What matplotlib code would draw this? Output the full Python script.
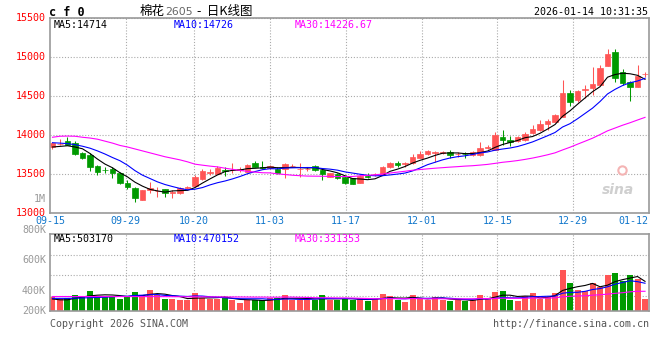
"""
CF0 (cotton 2605) daily K-line chart, sina finance style.
Redrawn with matplotlib: price panel with MA5/10/30, volume panel below.
"""

import matplotlib
matplotlib.use('Agg')
import matplotlib.pyplot as plt
import matplotlib.transforms as mtransforms
import numpy as np

# ============================================================
#  DATA
# ============================================================
OPENS = [13855, 13885, 13927, 13897, 13777, 13748, 13606, 13560, 13564, 13521,
         13393, 13320, 13171, 13299, 13282, 13307, 13260, 13256, 13330, 13350,
         13436, 13521, 13504, 13555, 13551, 13560, 13534, 13649, 13598, 13577,
         13564, 13564, 13605, 13564, 13565, 13606, 13555, 13470, 13504, 13470,
         13449, 13393, 13475, 13500, 13491, 13590, 13649, 13630, 13640, 13714,
         13757, 13777, 13778, 13787, 13760, 13760, 13744, 13744, 13838, 13816,
         13972, 13936, 13925, 13940, 14028, 14066, 14148, 14175, 14239, 14547,
         14453, 14585, 14602, 14645, 14893, 15072, 14807, 14688, 14624, 14780]
HIGHS = [13915, 13948, 13983, 13927, 13785, 13769, 13615, 13598, 13598, 13534,
         13427, 13333, 13305, 13406, 13342, 13315, 13299, 13342, 13350, 13491,
         13564, 13568, 13606, 13598, 13641, 13590, 13628, 13671, 13671, 13615,
         13590, 13641, 13628, 13641, 13590, 13619, 13565, 13521, 13513, 13478,
         13457, 13491, 13521, 13521, 13602, 13658, 13666, 13658, 13755, 13800,
         13810, 13800, 13795, 13808, 13787, 13787, 13795, 13915, 13872, 14043,
         14065, 13992, 13985, 14043, 14130, 14190, 14205, 14272, 14709, 14581,
         14581, 14645, 14880, 14901, 15102, 15102, 14846, 14700, 14901, 14816]
LOWS = [13820, 13875, 13870, 13748, 13692, 13547, 13491, 13513, 13448, 13376,
        13312, 13149, 13165, 13265, 13213, 13213, 13192, 13248, 13307, 13342,
        13430, 13491, 13498, 13478, 13521, 13534, 13528, 13594, 13564, 13570,
        13500, 13449, 13590, 13461, 13545, 13545, 13427, 13462, 13436, 13376,
        13370, 13385, 13449, 13478, 13485, 13585, 13600, 13600, 13632, 13708,
        13750, 13658, 13765, 13714, 13722, 13714, 13738, 13738, 13830, 13810,
        13872, 13860, 13910, 13930, 14020, 14055, 14068, 14165, 14230, 14376,
        14431, 14474, 14517, 14640, 14885, 14688, 14645, 14440, 14620, 14743]
CLOSES = [13897, 13893, 13876, 13756, 13713, 13598, 13534, 13554, 13521, 13393,
          13333, 13192, 13299, 13320, 13290, 13256, 13268, 13320, 13337, 13470,
          13547, 13530, 13577, 13547, 13556, 13566, 13619, 13598, 13577, 13606,
          13521, 13628, 13611, 13570, 13572, 13555, 13504, 13513, 13449, 13384,
          13376, 13478, 13470, 13504, 13590, 13649, 13615, 13641, 13725, 13765,
          13795, 13783, 13782, 13744, 13764, 13754, 13787, 13842, 13844, 13999,
          13938, 13917, 13972, 14020, 14075, 14148, 14186, 14260, 14547, 14431,
          14568, 14590, 14658, 14867, 15042, 14739, 14675, 14624, 14765, 14786]

MA5 = [13850, 13858, 13866, 13850, 13827, 13767, 13695, 13631, 13584, 13520,
       13467, 13399, 13348, 13307, 13287, 13271, 13287, 13291, 13294, 13330,
       13388, 13441, 13492, 13534, 13551, 13555, 13573, 13577, 13583, 13593,
       13584, 13586, 13589, 13587, 13580, 13587, 13562, 13543, 13519, 13481,
       13445, 13440, 13431, 13442, 13484, 13538, 13566, 13600, 13644, 13679,
       13708, 13742, 13770, 13774, 13774, 13765, 13766, 13778, 13798, 13845,
       13882, 13908, 13934, 13969, 13984, 14026, 14080, 14138, 14243, 14314,
       14398, 14479, 14559, 14623, 14745, 14779, 14796, 14789, 14769, 14718]
MA10 = [13905, 13900, 13893, 13880, 13860, 13835, 13800, 13760, 13715, 13674,
        13617, 13547, 13489, 13446, 13403, 13369, 13343, 13319, 13301, 13309,
        13330, 13364, 13392, 13414, 13441, 13472, 13507, 13535, 13559, 13572,
        13570, 13580, 13583, 13585, 13587, 13586, 13574, 13566, 13553, 13531,
        13516, 13501, 13487, 13481, 13482, 13492, 13503, 13516, 13543, 13581,
        13623, 13654, 13685, 13709, 13726, 13737, 13754, 13774, 13786, 13809,
        13824, 13837, 13856, 13884, 13915, 13954, 13994, 14036, 14106, 14149,
        14212, 14280, 14348, 14433, 14530, 14589, 14638, 14674, 14696, 14731]
MA30 = [13975, 13988, 13990, 13988, 13975, 13965, 13950, 13925, 13900, 13870,
        13850, 13825, 13800, 13775, 13750, 13725, 13705, 13685, 13660, 13630,
        13617, 13605, 13595, 13578, 13564, 13550, 13538, 13528, 13520, 13518,
        13506, 13497, 13488, 13482, 13477, 13476, 13475, 13473, 13471, 13471,
        13472, 13481, 13487, 13493, 13503, 13516, 13528, 13539, 13552, 13561,
        13570, 13578, 13585, 13592, 13598, 13605, 13610, 13618, 13627, 13640,
        13654, 13664, 13676, 13691, 13708, 13728, 13750, 13775, 13812, 13847,
        13886, 13924, 13963, 14009, 14057, 14093, 14129, 14161, 14196, 14230]

# volumes in thousands of lots
VOLUMES_K = [238, 204, 221, 272, 255, 340, 255, 255, 255, 204,
             255, 323, 272, 357, 272, 204, 204, 187, 187, 306,
             226, 209, 209, 238, 187, 141, 187, 187, 187, 216,
             216, 272, 187, 187, 204, 187, 272, 187, 187, 216,
             187, 216, 170, 204, 289, 255, 187, 158, 272, 226,
             187, 243, 187, 170, 187, 170, 187, 280, 216, 320,
             340, 187, 170, 255, 301, 204, 238, 306, 697, 476,
             350, 340, 481, 413, 612, 651, 510, 612, 544, 204]
VOL_MA5_K = [205, 190, 190, 215, 238, 258, 269, 275, 272, 262,
             245, 258, 262, 282, 296, 286, 262, 245, 211, 218,
             222, 223, 227, 238, 214, 197, 192, 188, 178, 184,
             199, 216, 216, 216, 213, 207, 207, 207, 207, 210,
             210, 199, 195, 199, 213, 227, 221, 219, 232, 220,
             206, 217, 223, 203, 195, 191, 180, 199, 208, 235,
             269, 269, 247, 254, 251, 223, 234, 261, 349, 384,
             413, 434, 469, 412, 439, 499, 533, 560, 586, 504]
VOL_MA10_K = [215, 215, 215, 218, 222, 226, 230, 235, 242, 250,
              252, 264, 269, 277, 279, 265, 260, 253, 247, 257,
              254, 242, 236, 224, 216, 209, 208, 208, 208, 199,
              198, 204, 202, 197, 198, 203, 212, 212, 212, 212,
              209, 203, 201, 203, 212, 218, 210, 207, 215, 216,
              216, 219, 221, 217, 207, 199, 199, 211, 205, 215,
              230, 224, 223, 231, 243, 246, 251, 254, 302, 317,
              318, 334, 365, 381, 412, 456, 484, 514, 499, 472]
VOL_MA30_K = [246, 246, 246, 246, 246, 246, 246, 246, 246, 246,
              245, 245, 245, 245, 244, 244, 243, 243, 242, 242,
              241, 240, 240, 239, 238, 238, 237, 236, 236, 235,
              234, 237, 236, 233, 231, 226, 226, 224, 222, 222,
              220, 216, 213, 208, 209, 210, 210, 209, 212, 209,
              208, 209, 208, 206, 206, 207, 207, 210, 211, 214,
              218, 216, 215, 217, 220, 221, 220, 224, 241, 250,
              255, 259, 269, 276, 287, 300, 311, 326, 335, 335]

DATE_LABELS = ['09-15', '09-29', '10-20', '11-03', '11-17', '12-01', '12-15', '12-29', '01-12']
DATE_INDEX  = [0, 10, 19, 29, 39, 49, 59, 69, 77]
GRID_DATES  = ['09-29', '10-20', '11-03', '11-17', '12-01', '12-15', '12-29']
PRICE_TICKS = [13000, 13500, 14000, 14500, 15000, 15500]
VOL_LABELS  = ['1M', '800K', '600K', '400K', '200K']

PRICE_LEGEND = ['MA5:14714', 'MA10:14726', 'MA30:14226.67']
VOL_LEGEND   = ['MA5:503170', 'MA10:470152', 'MA30:331353']

# ============================================================
#  LAYOUT & STYLE (pixels of a 660x360 image)
# ============================================================
W, H = 660, 360
LEFT, RIGHT = 50, 649
MAIN_TOP, MAIN_BOTTOM = 18.3, 213.3
VOL_TOP, VOL_BOTTOM = 234, 311
X_LO, X_HI = -0.33, 79.53          # candle i sits at pixel 52.5 + 7.5 * i
VOL_MAX = 1309000                  # value at the top of the volume box
VOL_LABEL_Y = [199, 230, 260, 291, 311]
VOL_GRID_Y = [255, 275, 296]
LEGEND_X = [54, 174, 295]

RED = '#ff5555'
GREEN = '#009a00'
MA_COLORS = ['black', '#0000ff', '#ff00ff']
GRID_COLOR = '#aaaaaa'
FRAME_COLOR = '#999999'
DATE_COLOR = '#1177cc'
FS = 7.2
CJK = ['Noto Sans CJK SC', 'DejaVu Sans']

plt.rcParams['font.family'] = ['DejaVu Sans Mono']


def fx(x):
    return x / W


def fy(y):
    return 1 - y / H


def date_pos(k):
    # sina spreads the date grid evenly over the box, slightly off the candles
    return X_LO + (X_HI - X_LO) * k / 79


def style_frame(ax):
    for sp in ax.spines.values():
        sp.set_color(FRAME_COLOR)
        sp.set_linewidth(1.2)
    ax.set_xlim(X_LO, X_HI)
    grid_idx = [DATE_INDEX[DATE_LABELS.index(d)] for d in GRID_DATES]
    for k in grid_idx:
        ax.axvline(date_pos(k), color=GRID_COLOR, lw=0.8, ls=(0, (1, 1.6)), zorder=0)


# ============================================================
#  PLOT
# ============================================================
def draw():
    fig = plt.figure(figsize=(W / 100, H / 100), dpi=100)
    fig.patch.set_facecolor('white')

    x = np.arange(len(CLOSES))
    o = np.array(OPENS)
    c = np.array(CLOSES)
    up = c >= o
    colors = np.where(up, RED, GREEN)

    # --- price panel ---
    ax = fig.add_axes([fx(LEFT), fy(MAIN_BOTTOM), fx(RIGHT - LEFT),
                       (MAIN_BOTTOM - MAIN_TOP) / H])
    style_frame(ax)
    ax.set_ylim(PRICE_TICKS[0], PRICE_TICKS[-1])
    ax.set_yticks(PRICE_TICKS)
    ax.set_yticklabels([str(t) for t in PRICE_TICKS])
    ax.grid(axis='y', color=GRID_COLOR, lw=0.8, ls=(0, (1, 1.6)), zorder=0)
    ax.set_xticks([date_pos(k) for k in DATE_INDEX])
    ax.set_xticklabels(DATE_LABELS)
    ax.tick_params(axis='y', length=0, pad=3, labelcolor='red', labelsize=FS)
    ax.tick_params(axis='x', length=0, pad=2.2, labelcolor=DATE_COLOR, labelsize=FS)
    lift = mtransforms.ScaledTranslation(0, 0.016, fig.dpi_scale_trans)
    for lbl in ax.get_yticklabels():
        lbl.set_transform(lbl.get_transform() + lift)

    ax.vlines(x, LOWS, HIGHS, colors=colors, lw=0.75, zorder=2)
    ax.bar(x, np.abs(c - o), bottom=np.minimum(o, c), width=0.76,
           color=colors, edgecolor=colors, linewidth=0.5, zorder=2)
    for series, col in zip([MA5, MA10, MA30], MA_COLORS):
        ax.plot(x, series, color=col, lw=0.8, zorder=3)

    # watermark
    ax.text(0.975, 0.12, 'sina', transform=ax.transAxes, ha='right', va='center',
            fontsize=10, fontstyle='italic', fontweight='bold', color='#cfcfcf',
            family='DejaVu Sans')
    ax.plot([0.955], [0.22], 'o', transform=ax.transAxes, ms=6, mfc='none',
            mec='#f4b4b4', mew=1.5)

    # --- volume panel ---
    axv = fig.add_axes([fx(LEFT), fy(VOL_BOTTOM), fx(RIGHT - LEFT),
                        (VOL_BOTTOM - VOL_TOP) / H])
    style_frame(axv)
    axv.set_ylim(0, VOL_MAX)
    axv.set_xticks([])
    axv.set_yticks([])
    for gy in VOL_GRID_Y:
        f = (VOL_BOTTOM - gy) / (VOL_BOTTOM - VOL_TOP)
        axv.axhline(f * VOL_MAX, color=GRID_COLOR, lw=0.8, ls=(0, (1, 1.6)), zorder=0)

    axv.bar(x, np.array(VOLUMES_K) * 1000, width=0.8, color=colors, zorder=2)
    for series, col in zip([VOL_MA5_K, VOL_MA10_K, VOL_MA30_K], MA_COLORS):
        axv.plot(x, np.array(series) * 1000, color=col, lw=0.8, zorder=3)

    for lbl, py in zip(VOL_LABELS, VOL_LABEL_Y):
        fig.text(fx(46), fy(py), lbl, ha='right', va='center', fontsize=FS,
                 color='#999999')

    # --- legends ---
    for txt, px, col in zip(PRICE_LEGEND, LEGEND_X, MA_COLORS):
        fig.text(fx(px), fy(24.5), txt, ha='left', va='center', fontsize=FS, color=col)
    for txt, px, col in zip(VOL_LEGEND, LEGEND_X, MA_COLORS):
        fig.text(fx(px), fy(239.5), txt, ha='left', va='center', fontsize=FS, color=col)

    # --- header & footer ---
    fig.text(fx(49), fy(12), 'c f 0', ha='left', va='center', fontsize=8.5,
             fontweight='bold', color='black')
    fig.text(fx(140), fy(11.5), '棉花', ha='left', va='center', fontsize=9,
             color='black', family=CJK)
    fig.text(fx(165), fy(12), '2605', ha='left', va='center', fontsize=7.8,
             color='#666666', family='DejaVu Sans')
    fig.text(fx(197), fy(11.5), '-  日K线图', ha='left', va='center', fontsize=9,
             color='black', family=CJK)
    fig.text(fx(648), fy(12), '2026-01-14 10:31:35', ha='right', va='center',
             fontsize=FS, color='black')
    fig.text(fx(50), fy(324), 'Copyright 2026 SINA.COM', ha='left', va='center',
             fontsize=FS, color='#555555')
    fig.text(fx(649), fy(324), 'http://finance.sina.com.cn', ha='right', va='center',
             fontsize=FS, color='#555555')

    fig.savefig('out.png', dpi=100)


if __name__ == '__main__':
    draw()
